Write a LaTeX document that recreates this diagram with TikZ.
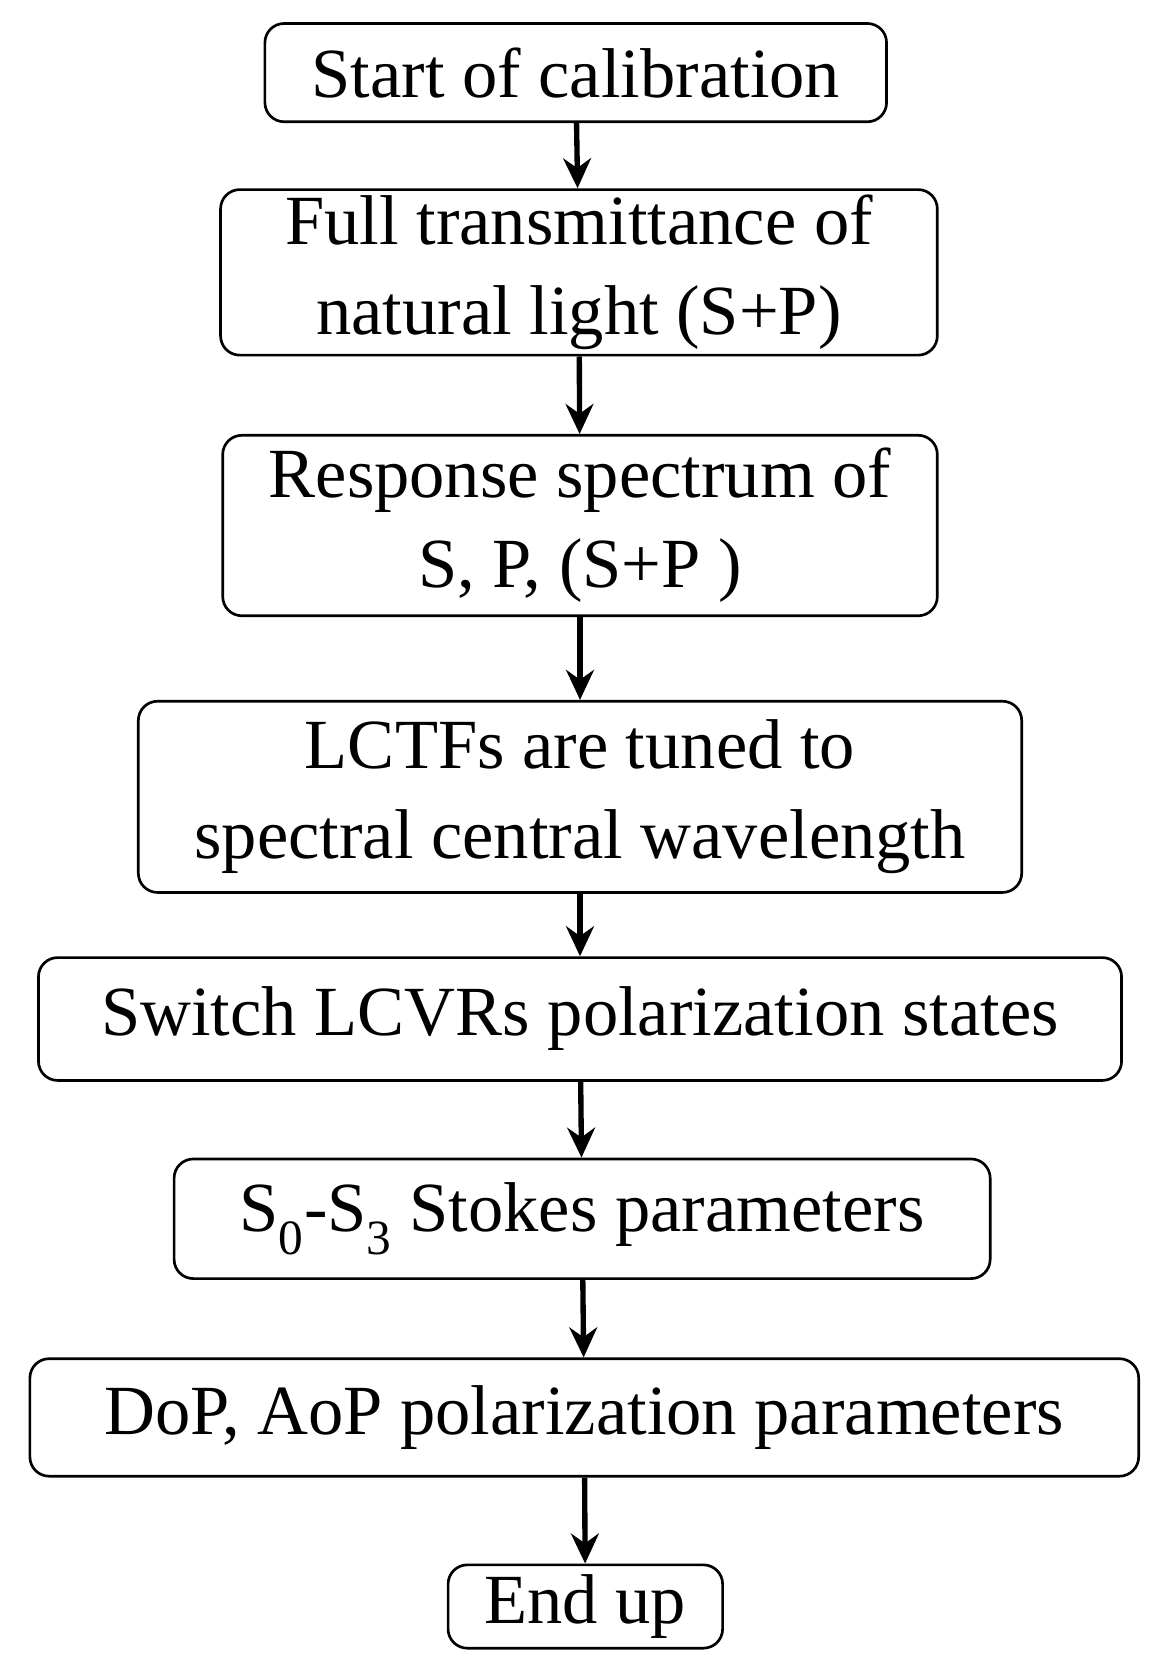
\documentclass[tikz,border=0pt]{standalone}
\usepackage{fontspec}
\setmainfont{Liberation Serif}
\usetikzlibrary{arrows.meta}
\begin{document}
\begin{tikzpicture}[x=1pt,y=-1pt,
 box/.style={draw,line width=2.5pt,rounded corners=18pt,align=center,inner sep=0pt,font=\fontsize{66}{84}\selectfont},
 arr/.style={line width=5pt,-{Stealth[length=28pt,width=26pt]}}]
\useasboundingbox (0,0) rectangle (1088,1570);
\node[box,minimum width=582pt,minimum height=92pt] (a) at (539,68) {Start of calibration};
\node[box,minimum width=671pt,minimum height=155pt] (b) at (542,255) {Full transmittance of\\natural light (S+P)};
\node[box,minimum width=669pt,minimum height=169pt] (c) at (543,492) {Response spectrum of\\S, P, (S+P )};
\node[box,minimum width=827pt,minimum height=179pt] (d) at (543,746) {LCTFs are tuned to\\spectral central wavelength};
\node[box,minimum width=1014pt,minimum height=115pt] (e) at (543,954) {Switch LCVRs polarization states};
\node[box,minimum width=764pt,minimum height=112pt] (f) at (545,1141) {S\textsubscript{0}-S\textsubscript{3} Stokes parameters};
\node[box,minimum width=1038pt,minimum height=110pt] (g) at (547,1327) {DoP, AoP polarization parameters};
\node[box,minimum width=257pt,minimum height=78pt] (h) at (548,1504) {End up};
\draw[arr] (a) -- (b);
\draw[arr] (b) -- (c);
\draw[arr] (c) -- (d);
\draw[arr] (d) -- (e);
\draw[arr] (e) -- (f);
\draw[arr] (f) -- (g);
\draw[arr] (g) -- (h);
\end{tikzpicture}
\end{document}
